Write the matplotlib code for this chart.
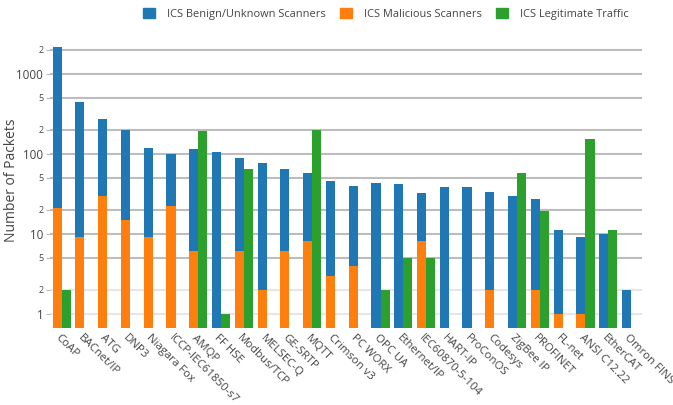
import numpy as np
import matplotlib
matplotlib.use("Agg")
import matplotlib.pyplot as plt
import matplotlib.transforms as mtransforms

# Data
protocols = ['CoAP', 'BACnet/IP', 'ATG', 'DNP3', 'Niagara Fox', 'ICCP-IEC61850-s7',
             'AMQP', 'FF HSE', 'Modbus/TCP', 'MELSEC-Q', 'GE-SRTP', 'MQTT',
             'Crimson v3', 'PC WORX', 'OPC UA', 'Ethernet/IP', 'IEC60870-5-104',
             'HART-IP', 'ProConOS', 'Codesys', 'ZigBee IP', 'PROFINET', 'FL-net',
             'ANSI C12.22', 'EtherCAT', 'Omron FINS']
benign = [2175, 443, 272, 198, 118, 99, 114, 105, 88, 76, 64, 57,
          45, 39, 43, 42, 32, 38, 38, 33, 30, 27, 11, 9, 10, 2]
malicious = [21, 9, 30, 15, 9, 22, 6, 0, 6, 2, 6, 8,
             3, 4, 0, 0, 8, 0, 0, 2, 0, 2, 1, 1, 0, 0]
legit = [2, 0, 0, 0, 0, 0, 192, 1, 64, 0, 0, 200,
         0, 0, 2, 5, 5, 0, 0, 0, 57, 19, 0, 153, 11, 0]

ytick_vals = [1, 2, 5, 10, 20, 50, 100, 200, 500, 1000, 2000]
ytick_text = ['1', '2', '5', '10', '2', '5', '100', '2', '5', '1000', '2']

BLUE, ORANGE, GREEN = '#1f77b4', '#ff7f0e', '#2ca02c'
TXT = '#444444'
plt.rcParams['font.family'] = ['Open Sans', 'DejaVu Sans']

fig = plt.figure(figsize=(6.73, 4.05), dpi=100)
ax = fig.add_axes([50.3 / 673, (405 - 328) / 405, (642.4 - 50.3) / 673, (328 - 45) / 405])
ax.set_yscale('log')
ymin, ymax = 10 ** -0.179, 10 ** 3.359
ax.set_ylim(ymin, ymax)
ax.set_xlim(-0.5, len(protocols) - 0.5)

x = np.arange(len(protocols))
w = 0.4


def bars(xs, vals, color):
    vals = np.array(vals, dtype=float)
    m = vals > 0
    ax.bar(xs[m], vals[m] - ymin / 2, width=w, bottom=ymin / 2, color=color,
           linewidth=0, zorder=3)


bars(x - w / 2, benign, BLUE)
bars(x - w / 2, malicious, ORANGE)
bars(x + w / 2, legit, GREEN)

# gridlines
for v in ytick_vals:
    c = '#e6e6e6' if v < 5 else '#bdbdbd'
    ax.axhline(v, color=c, lw=1.5, zorder=1)

ax.set_yticks(ytick_vals)
ax.set_yticklabels(ytick_text)
ax.yaxis.set_minor_locator(matplotlib.ticker.NullLocator())
for lab, t in zip(ax.get_yticklabels(), ytick_text):
    lab.set_fontsize(8.4 if t in ('1', '10', '100', '1000') else 6.5)
    lab.set_color(TXT)
ax.tick_params(axis='y', length=3, color='#bdbdbd', pad=2)

ax.set_xticks(x)
ax.set_xticklabels(protocols, rotation=-45, ha='left', va='center',
                   rotation_mode='anchor', fontsize=8.2, color=TXT)
ax.tick_params(axis='x', length=0, pad=6)
shift = mtransforms.ScaledTranslation(-5 / 100, 0, fig.dpi_scale_trans)
for lab in ax.get_xticklabels():
    lab.set_transform(lab.get_transform() + shift)

for s in ax.spines.values():
    s.set_visible(False)

fig.text(12 / 673, 1 - 180 / 405, 'Number of Packets', rotation=90,
         ha='center', va='center', fontsize=10, color=TXT)

# legend across the top
handles = [plt.Rectangle((0, 0), 1, 1, color=c) for c in (BLUE, ORANGE, GREEN)]
labels = ['ICS Benign/Unknown Scanners', 'ICS Malicious Scanners', 'ICS Legitimate Traffic']
fig.legend(handles, labels, loc='upper left', bbox_to_anchor=(133 / 673, 1.0 + 2 / 405),
           ncol=3, frameon=False, fontsize=7.9, handlelength=1.1, handleheight=1.1,
           handletextpad=1.1, columnspacing=1.3, labelcolor=TXT)

fig.savefig('out.png', dpi=100)
